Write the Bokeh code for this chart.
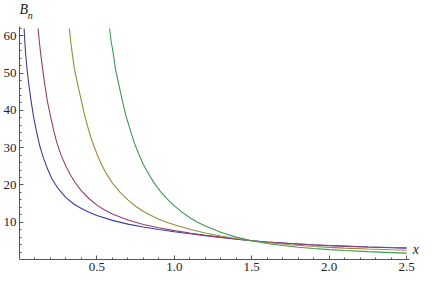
from bokeh.plotting import figure
from bokeh.models import Range1d, Label, FixedTicker
from bokeh.embed import file_html
from bokeh.resources import INLINE

# curve data (x, B_n)
blue_x = [0.03, 0.035, 0.04, 0.05, 0.06, 0.075, 0.09, 0.11, 0.13, 0.155, 0.18, 0.21, 0.25, 0.3, 0.35,
          0.4, 0.45, 0.5, 0.6, 0.7, 0.8, 0.9, 1.0, 1.1, 1.2, 1.3, 1.4, 1.5, 1.6, 1.75, 1.9, 2.0, 2.1,
          2.25, 2.4, 2.5]
blue_y = [62, 58, 55, 50.5, 47, 42.5, 38.5, 34.3, 30.6, 27.2, 24.4, 21.6, 19.0, 16.6, 14.9,
          13.7, 12.7, 11.8, 10.5, 9.5, 8.7, 8.05, 7.45, 6.9, 6.4, 5.9, 5.45, 5.05, 4.7, 4.3, 3.95, 3.75, 3.6,
          3.35, 3.15, 3.05]

purple_x = [0.12, 0.128, 0.136, 0.15, 0.163, 0.18, 0.2, 0.22, 0.24, 0.27, 0.3, 0.33, 0.36, 0.4, 0.45,
            0.5, 0.55, 0.6, 0.7, 0.8, 0.9, 1.0, 1.1, 1.2, 1.3, 1.4, 1.5, 1.6, 1.75, 1.9, 2.0, 2.1,
            2.25, 2.4, 2.5]
purple_y = [62, 58.5, 55.5, 51, 47, 42.5, 38.5, 34.8, 31.5, 27.8, 25, 22.6, 20.6, 18.4, 16.3,
            14.6, 13.3, 12.2, 10.6, 9.4, 8.5, 7.75, 7.1, 6.5, 6.0, 5.5, 5.05, 4.7, 4.25, 3.9, 3.7, 3.55,
            3.35, 3.2, 3.15]

gold_x = [0.322, 0.33, 0.34, 0.355, 0.376, 0.4, 0.422, 0.445, 0.467, 0.5, 0.53, 0.56, 0.6, 0.65, 0.7,
          0.75, 0.8, 0.85, 0.9, 0.95, 1.0, 1.1, 1.2, 1.3, 1.4, 1.5, 1.6, 1.75, 1.9, 2.0, 2.1, 2.25,
          2.4, 2.5]
gold_y = [62, 58.8, 55.5, 51, 47, 42.5, 38.5, 35, 32, 28.3, 25.5, 23.1, 20.5, 18, 16,
          14.3, 12.9, 11.8, 10.8, 10.0, 9.3, 8.1, 7.1, 6.3, 5.65, 5.05, 4.55, 3.95, 3.5, 3.25, 3.05, 2.8,
          2.6, 2.5]

green_x = [0.582, 0.592, 0.605, 0.62, 0.641, 0.665, 0.688, 0.715, 0.74, 0.77, 0.8, 0.835, 0.87, 0.91,
           0.95, 1.0, 1.05, 1.1, 1.15, 1.2, 1.3, 1.4, 1.5, 1.6, 1.7, 1.8, 1.9, 2.0, 2.1, 2.25, 2.4, 2.5]
green_y = [62, 58.5, 55.5, 51, 47, 42.5, 38.5, 34.8, 31.5, 28.3, 25.5, 22.9, 20.5, 18.3,
           16.4, 14.4, 12.7, 11.2, 10.0, 9.0, 7.3, 6.0, 5.05, 4.3, 3.75, 3.3, 2.95, 2.65, 2.4, 2.1, 1.85, 1.7]

x_ticks = [0.5, 1.0, 1.5, 2.0, 2.5]
y_ticks = [10, 20, 30, 40, 50, 60]

series = [
    (blue_x, blue_y, "#3d3d99"),
    (purple_x, purple_y, "#993d71"),
    (gold_x, gold_y, "#998b3d"),
    (green_x, green_y, "#3d9955"),
]

p = figure(width=420, height=273, output_backend="svg", toolbar_location=None,
           x_range=Range1d(0, 2.59), y_range=Range1d(0, 69.5),
           min_border_left=0, min_border_right=0, min_border_top=0, min_border_bottom=0)
p.outline_line_color = None
p.grid.visible = False
p.background_fill_color = "white"
p.border_fill_color = "white"

for xs, ys, c in series:
    p.line(xs, ys, line_color=c, line_width=1.1)

font = "Liberation Serif"
for ax in (p.xaxis[0], p.yaxis[0]):
    ax.axis_line_color = "#555555"
    ax.major_tick_line_color = "#555555"
    ax.minor_tick_line_color = "#555555"
    ax.major_tick_in = 4
    ax.major_tick_out = 0
    ax.minor_tick_in = 2
    ax.minor_tick_out = 0
    ax.major_label_text_font = font
    ax.major_label_text_font_size = "13px"
    ax.major_label_text_color = "#222222"
    ax.major_label_standoff = 3

p.xaxis.bounds = (0, 2.52)
p.yaxis.bounds = (0, 62.6)
p.xaxis.ticker = FixedTicker(ticks=x_ticks, minor_ticks=[i / 10 for i in range(1, 26)])
p.yaxis.ticker = FixedTicker(ticks=y_ticks, minor_ticks=list(range(2, 63, 2)))
p.xaxis.major_label_overrides = {0.5: "0.5", 1.0: "1.0", 1.5: "1.5", 2.0: "2.0", 2.5: "2.5"}

p.add_layout(Label(x=0.0, y=65.2, text="B", text_font=font, text_font_style="italic",
                   text_font_size="14px", text_color="#222222"))
p.add_layout(Label(x=0.053, y=64.1, text="n", text_font=font, text_font_style="italic",
                   text_font_size="10px", text_color="#222222"))
p.add_layout(Label(x=2.54, y=0.8, text="x", text_font=font, text_font_style="italic",
                   text_font_size="14px", text_color="#222222"))

open("out.html", "w").write(file_html(p, INLINE))
